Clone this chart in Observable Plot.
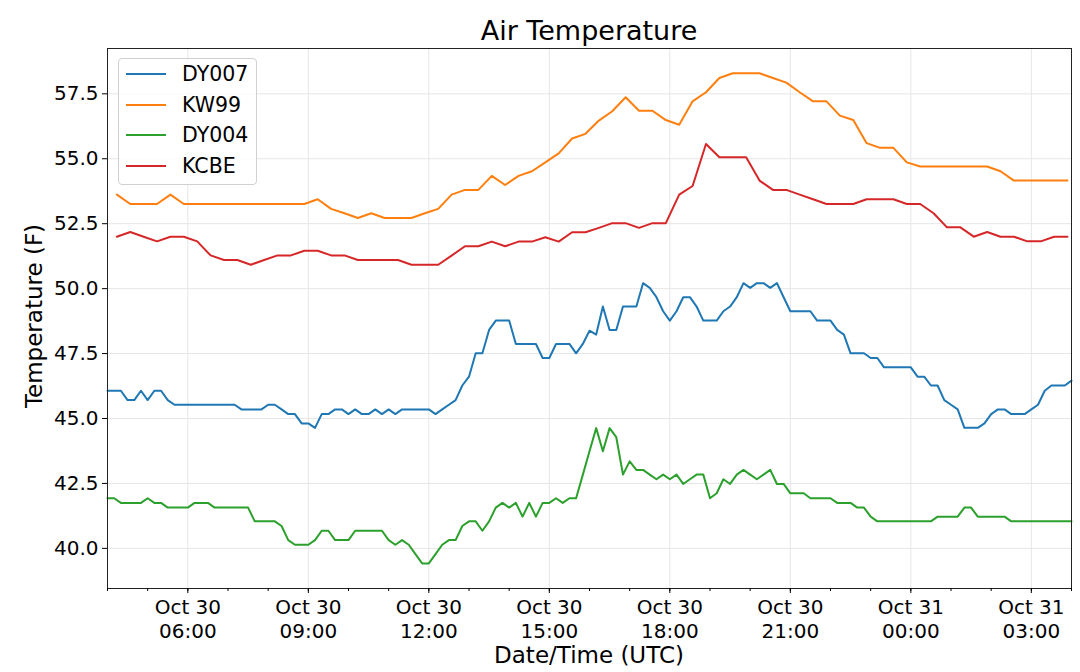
<!DOCTYPE html>
<html><head><meta charset="utf-8">
<script src="https://cdn.jsdelivr.net/npm/d3@7"></script>
<script src="https://cdn.jsdelivr.net/npm/@observablehq/plot@0.6"></script>
<style>
body{margin:0;background:#fff;font-family:"DejaVu Sans",sans-serif;color:#000;}
#wrap{position:relative;width:1080px;height:672px;overflow:hidden;background:#fff;}
#title{position:absolute;left:589px;top:15px;transform:translateX(-50%);font-size:27px;white-space:nowrap;}
#chart{position:absolute;left:0;top:40px;}
#ylabel{position:absolute;left:34px;top:316px;transform:translate(-50%,-50%) rotate(-90deg);font-size:23px;white-space:nowrap;}
#xlabel{position:absolute;left:589px;top:642px;transform:translateX(-50%);font-size:23px;white-space:nowrap;}
#legend{position:absolute;left:118px;top:58px;width:139px;height:127px;border:1px solid #d0d0d0;border-radius:4px;background:rgba(255,255,255,0.8);box-sizing:border-box;}
.row{position:absolute;left:0;height:30px;width:100%;}
.sw{position:absolute;left:7px;top:14px;width:40px;height:2px;}
.lab{position:absolute;left:63px;top:2px;font-size:20.5px;line-height:26px;}
</style></head>
<body>
<div id="wrap">
  <div id="title">Air Temperature</div>
  <div id="chart"></div>
  <div id="ylabel">Temperature (F)</div>
  <div id="xlabel">Date/Time (UTC)</div>
  <div id="legend"></div>
</div>
<script>
// Series names and colours
const seriesNames = ["DY007", "KW99", "DY004", "KCBE"];
const seriesColors = ["#1f77b4", "#ff7f0e", "#2ca02c", "#d62728"];

// DY007 / DY004: 10-minute samples from Oct 30 04:00 UTC
const dy007 = [
  46.07,46.07,46.07,45.71,45.71,46.07,45.71,46.07,46.07,45.71,45.53,
  45.53,45.53,45.53,45.53,45.53,45.53,45.53,45.53,45.53,
  45.35,45.35,45.35,45.35,45.53,45.53,45.35,45.17,45.17,44.81,44.81,44.64,
  45.17,45.17,45.35,45.35,45.17,45.35,45.17,45.17,45.35,45.17,45.35,45.17,
  45.35,45.35,45.35,45.35,45.35,45.17,45.35,45.53,45.71,46.27,46.61,
  47.51,47.51,48.41,48.77,48.77,48.77,47.87,47.87,47.87,47.87,47.33,47.33,
  47.87,47.87,47.87,47.51,47.87,48.38,48.23,49.31,48.41,48.41,
  49.31,49.31,49.31,50.21,50.03,49.67,49.13,48.77,49.13,49.67,49.67,49.31,
  48.77,48.77,48.77,49.13,49.31,49.67,50.21,50.03,50.21,50.21,50.03,50.21,49.67,
  49.13,49.13,49.13,49.13,48.77,48.77,48.77,48.41,48.23,47.51,47.51,47.51,
  47.33,47.33,46.97,46.97,46.97,46.97,46.97,46.61,46.61,46.27,46.27,
  45.71,45.53,45.35,44.64,44.64,44.64,44.81,45.17,45.35,45.35,
  45.17,45.17,45.17,45.35,45.53,46.07,46.27,46.27,46.27,46.46
];
const dy004 = [
  41.93,41.93,41.75,41.75,41.75,41.75,41.93,41.75,41.75,
  41.57,41.57,41.57,41.57,41.75,41.75,41.75,
  41.57,41.57,41.57,41.57,41.57,41.57,41.04,41.04,41.04,41.04,
  40.86,40.32,40.14,40.14,40.14,40.32,40.68,40.68,40.32,40.32,40.32,
  40.68,40.68,40.68,40.68,40.68,
  40.32,40.14,40.32,40.14,39.78,39.42,39.42,39.78,40.14,40.32,40.32,
  40.86,41.04,41.04,40.68,41.04,41.57,41.75,41.57,41.75,41.22,41.75,41.22,
  41.75,41.75,41.93,41.75,41.93,41.93,
  42.83,43.74,44.63,43.74,44.63,44.28,42.84,43.35,43.02,43.02,42.84,42.66,
  42.84,42.66,42.84,42.48,42.66,42.84,42.84,41.93,42.12,42.66,42.48,42.84,
  43.02,42.84,42.66,42.84,43.02,42.48,42.48,
  42.12,42.12,42.12,41.93,41.93,41.93,41.93,41.75,41.75,41.75,41.57,41.57,
  41.22,41.04,41.04,41.04,41.04,41.04,41.04,41.04,41.04,41.04,
  41.22,41.22,41.22,41.22,41.57,41.57,41.22,41.22,41.22,41.22,41.22,
  41.04,41.04,41.04,41.04,41.04,41.04,41.04,41.04,41.04,41.04
];
// KW99 / KCBE: 20-minute samples from Oct 30 04:14 UTC
const kw99 = [
  53.62,53.26,53.26,53.26,53.62,
  53.26,53.26,53.26,53.26,53.26,53.26,53.26,53.26,53.26,53.26,
  53.44,53.07,52.90,52.72,52.90,52.72,52.72,52.72,52.90,53.07,
  53.62,53.80,53.80,54.34,53.99,54.34,54.52,54.86,55.21,55.78,55.96,
  56.47,56.83,57.37,56.85,56.85,56.49,56.31,57.21,57.56,58.11,
  58.29,58.29,58.29,58.11,57.93,57.56,57.21,57.21,56.66,56.49,
  55.60,55.42,55.42,54.86,54.70,54.70,54.70,54.70,54.70,54.70,
  54.52,54.16,54.16,54.16,54.16,54.16
];
const kcbe = [
  52.00,52.18,52.00,51.82,52.00,52.00,51.82,51.28,51.10,51.10,50.92,
  51.10,51.28,51.28,51.46,51.46,51.28,51.28,51.10,51.10,51.10,51.10,
  50.92,50.92,50.92,51.27,51.63,51.63,51.81,51.63,51.81,51.81,51.98,51.81,
  52.17,52.17,52.34,52.52,52.52,52.34,52.52,52.52,53.62,53.95,55.57,
  55.06,55.06,55.06,54.16,53.80,53.80,53.62,53.44,53.26,53.26,53.26,
  53.44,53.44,53.44,53.26,53.26,52.90,52.36,52.36,52.00,52.18,52.00,52.00,
  51.82,51.82,52.00,52.00
];

const yTicks = [40, 42.5, 45, 47.5, 50, 52.5, 55, 57.5];
const xStart = new Date(Date.UTC(2019, 9, 30, 4, 0));
const xEnd = new Date(Date.UTC(2019, 9, 31, 4, 0));
const sparseStart = new Date(Date.UTC(2019, 9, 30, 4, 14));

const MIN = 60000;
function toRows(name, values, start, stepMin) {
  return values.map((v, i) => ({series: name, time: new Date(+start + i * stepMin * MIN), value: v}));
}
const rows = [
  ...toRows("DY007", dy007, xStart, 10),
  ...toRows("KW99", kw99, sparseStart, 20),
  ...toRows("DY004", dy004, xStart, 10),
  ...toRows("KCBE", kcbe, sparseStart, 20)
];

const majorTicks = d3.utcHour.every(3).range(xStart, new Date(+xEnd + 1));
const minorTicks = d3.utcHour.every(1).range(xStart, new Date(+xEnd + 1));
const fmtX = d3.utcFormat("%b %d\n%H:%M");

const chart = Plot.plot({
  width: 1080,
  height: 632,
  marginTop: 8,
  marginBottom: 84,
  marginLeft: 107,
  marginRight: 9,
  style: {fontFamily: "DejaVu Sans", color: "#000", background: "transparent", overflow: "visible"},
  x: {type: "utc", domain: [xStart, xEnd], label: null},
  y: {domain: [38.455, 59.245], label: null},
  color: {domain: seriesNames, range: seriesColors},
  marks: [
    Plot.gridX(majorTicks, {stroke: "#e6e6e6", strokeOpacity: 1, strokeWidth: 1}),
    Plot.gridY(yTicks, {stroke: "#e6e6e6", strokeOpacity: 1, strokeWidth: 1}),
    Plot.lineY(rows, {x: "time", y: "value", z: "series", stroke: "series", strokeWidth: 2}),
    Plot.frame({stroke: "#222", strokeWidth: 1}),
    Plot.axisX(minorTicks, {tickSize: 3, tickFormat: () => "", label: null}),
    Plot.axisX(majorTicks, {tickSize: 5, tickPadding: 3, tickFormat: fmtX, fontSize: 20, lineHeight: 1.2, label: null}),
    Plot.axisY(yTicks, {tickSize: 5, tickPadding: 4, tickFormat: d3.format(".1f"), fontSize: 20, label: null})
  ]
});
document.getElementById("chart").appendChild(chart);

const legend = document.getElementById("legend");
seriesNames.forEach((name, i) => {
  const row = document.createElement("div");
  row.className = "row";
  row.style.top = (i * 30.6) + "px";
  const sw = document.createElement("div");
  sw.className = "sw";
  sw.style.background = seriesColors[i];
  const lab = document.createElement("div");
  lab.className = "lab";
  lab.textContent = name;
  row.appendChild(sw); row.appendChild(lab);
  legend.appendChild(row);
});
</script>
</body></html>
